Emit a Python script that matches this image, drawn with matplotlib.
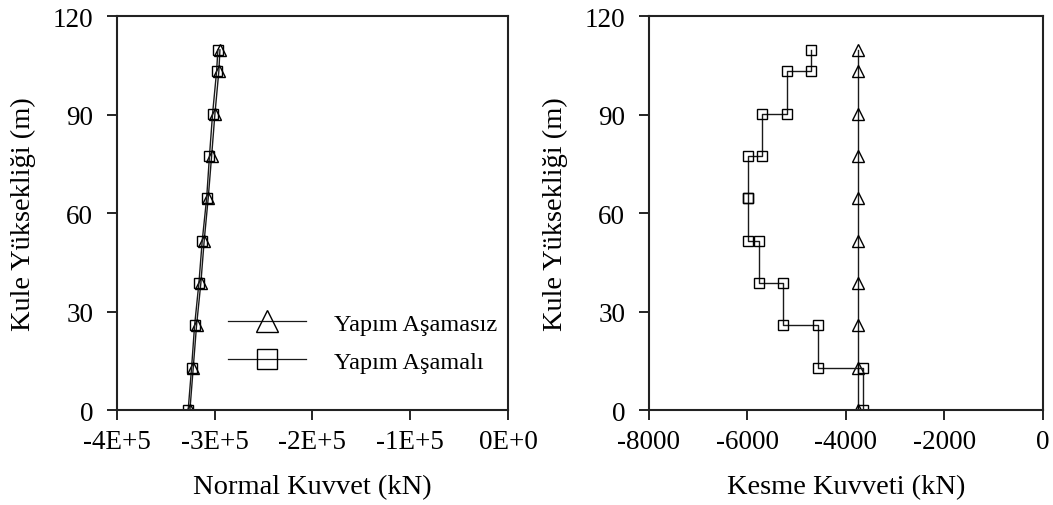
import matplotlib
matplotlib.use("Agg")
import matplotlib.pyplot as plt

# ---- data ----
heights = [0, 12.9, 25.8, 38.7, 51.6, 64.5, 77.4, 90.3, 103.2, 109.7]
normal_asamasiz = [-325300, -321900, -318500, -314100, -310700, -306600,
                   -303100, -299700, -295700, -294600]
normal_asamali = [-327100, -323600, -320500, -316100, -312700, -308200,
                  -305300, -302100, -298000, -296700]

shear_asamasiz = [-3750] * 10

shear_step_heights = [109.7, 103.2, 103.2, 90.3, 90.3, 77.4, 77.4, 64.5, 64.5,
                      51.6, 51.6, 38.7, 38.7, 25.8, 25.8, 12.9, 12.9, 0]
shear_asamali = [-4711, -4711, -5192, -5192, -5700, -5700, -5996, -5996, -5996,
                 -5996, -5760, -5760, -5285, -5285, -4574, -4574, -3649, -3649]

left_xticks = [-400000, -300000, -200000, -100000, 0]
left_xticklabels = ["-4E+5", "-3E+5", "-2E+5", "-1E+5", "0E+0"]
right_xticks = [-8000, -6000, -4000, -2000, 0]
yticks = [0, 30, 60, 90, 120]

label_series1 = "Yapım Aşamasız"
label_series2 = "Yapım Aşamalı"
ylabel = "Kule Yüksekliği (m)"
xlabel_left = "Normal Kuvvet (kN)"
xlabel_right = "Kesme Kuvveti (kN)"

plt.rcParams['font.family'] = ['Liberation Serif', 'DejaVu Serif']
plt.rcParams['axes.unicode_minus'] = False

fig = plt.figure(figsize=(10.53, 5.06), dpi=100)
ax1 = fig.add_axes([0.111, 0.1877, 0.3714, 0.7787])
ax2 = fig.add_axes([0.6163, 0.1877, 0.3742, 0.7787])

line_kw = dict(color='#1a1a1a', lw=1.0, markerfacecolor='none',
               markeredgecolor='black', markeredgewidth=1.0)
tri_ms = 8
sq_ms = 6.5

ax1.plot(normal_asamasiz, heights, marker='^', markersize=tri_ms,
         label=label_series1, **line_kw)
ax1.plot(normal_asamali, heights, marker='s', markersize=sq_ms,
         label=label_series2, **line_kw)

ax2.plot(shear_asamasiz, heights, marker='^', markersize=tri_ms, **line_kw)
ax2.plot(shear_asamali, shear_step_heights, marker='s', markersize=sq_ms,
         **line_kw)

for ax in (ax1, ax2):
    ax.set_ylim(0, 120)
    ax.set_yticks(yticks)
    ax.tick_params(direction='out', length=7, width=1.2, labelsize=19.5,
                   colors='black')
    ax.tick_params(axis='y', pad=10)
    ax.tick_params(axis='x', pad=7)
    for s in ax.spines.values():
        s.set_linewidth(1.5)
        s.set_color('#222222')
    ax.set_ylabel(ylabel, fontsize=20.5, labelpad=12)

ax1.set_xlim(-400000, 0)
ax1.set_xticks(left_xticks)
ax1.set_xticklabels(left_xticklabels)
ax1.set_xlabel(xlabel_left, fontsize=20.5, labelpad=14)

ax2.set_xlim(-8000, 0)
ax2.set_xticks(right_xticks)
ax2.set_xlabel(xlabel_right, fontsize=20.5, labelpad=14)

leg = ax1.legend(loc='center left', bbox_to_anchor=(0.284, 0.171),
                 frameon=False, fontsize=17.5, handlelength=3.2,
                 handletextpad=1.15, labelspacing=0.65, borderpad=0,
                 borderaxespad=0)
hs = leg.legend_handles
hs[0].set_markersize(15.5)
hs[1].set_markersize(14.5)
for h in hs:
    h.set_linewidth(0.9)

fig.savefig("out.png", dpi=100)
